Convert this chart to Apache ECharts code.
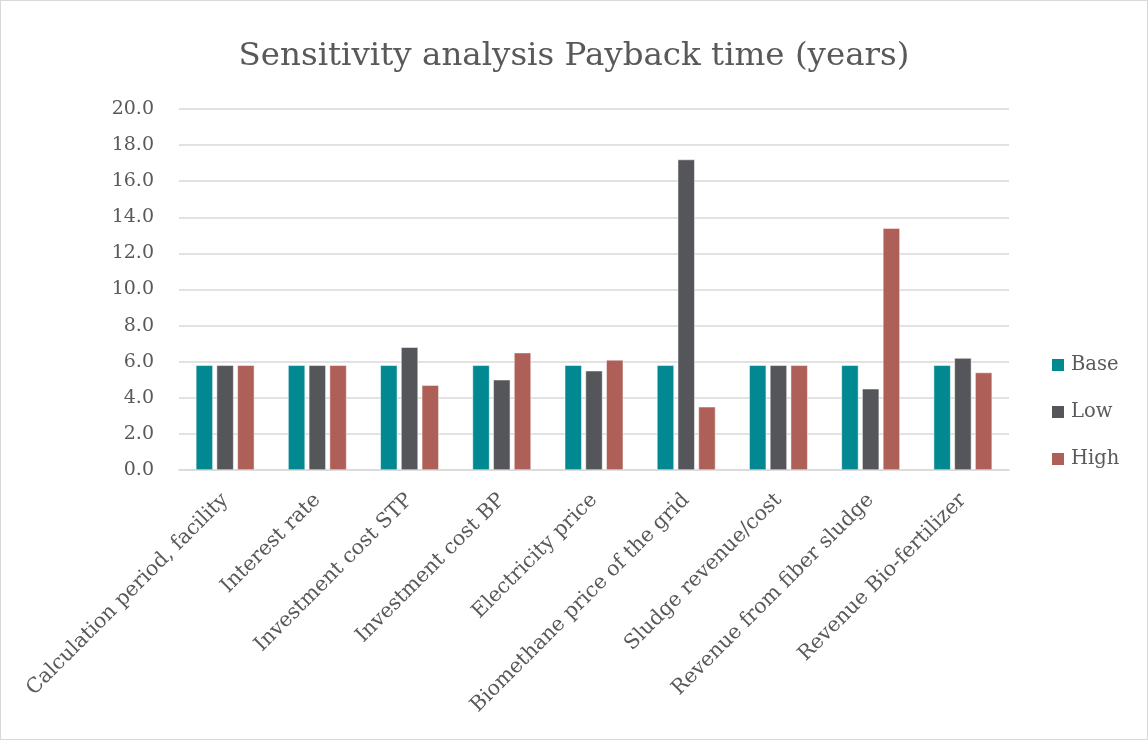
<!DOCTYPE html>
<html>
<head>
<meta charset="utf-8">
<script src="https://cdn.jsdelivr.net/npm/echarts@6/dist/echarts.min.js"></script>
<style>
  html, body { margin: 0; padding: 0; background: #fff; }
  #chart { width: 1148px; height: 740px; box-sizing: border-box; border: 1px solid #d9d9d9; }
</style>
</head>
<body>
<div id="chart"></div>
<script>
// payback time in years
const categories = [
  'Calculation period, facility',
  'Interest rate',
  'Investment cost STP',
  'Investment cost BP',
  'Electricity price',
  'Biomethane price of the grid',
  'Sludge revenue/cost',
  'Revenue from fiber sludge',
  'Revenue Bio-fertilizer'
]
const baseValues = [5.8, 5.8, 5.8, 5.8, 5.8, 5.8, 5.8, 5.8, 5.8]
const lowValues  = [5.8, 5.8, 6.8, 5.0, 5.5, 17.2, 5.8, 4.5, 6.2]
const highValues = [5.8, 5.8, 4.7, 6.5, 6.1, 3.5, 5.8, 13.4, 5.4]
const seriesNames = ['Base', 'Low', 'High']
const colors = ['#028891', '#55565a', '#ae5f57']

const FONT = '"DejaVu Serif", "Liberation Serif", serif'
const TEXT = '#595959'

var chart = echarts.init(document.getElementById('chart'))

function barSeries(name, data) {
  return {
    name: name,
    type: 'bar',
    data: data,
    barWidth: 17,
    barGap: '22%',
    itemStyle: { borderColor: '#fff', borderWidth: 0.5 }
  }
}

chart.setOption({
  animation: false,
  color: colors,
  title: {
    text: 'Sensitivity analysis Payback time (years)',
    left: 'center',
    top: 34,
    padding: [5, 0, 5, 10],
    textStyle: { fontFamily: FONT, fontSize: 32.5, fontWeight: 'normal', color: TEXT }
  },
  legend: {
    orient: 'vertical',
    left: 1044,
    top: 349,
    itemWidth: 14,
    itemHeight: 14,
    itemGap: 27,
    icon: 'rect',
    textStyle: { fontFamily: FONT, fontSize: 19.5, color: TEXT, padding: [0, 0, 0, 1] },
    data: seriesNames
  },
  grid: { left: 178, right: 138, top: 108, bottom: 269 },
  xAxis: {
    type: 'category',
    data: categories,
    axisLine: { lineStyle: { color: '#d9d9d9', width: 1.5 } },
    axisTick: { show: false },
    axisLabel: {
      rotate: 45,
      interval: 0,
      margin: 27,
      fontFamily: FONT,
      fontSize: 20.5,
      color: TEXT
    }
  },
  yAxis: {
    type: 'value',
    min: 0,
    max: 20,
    interval: 2,
    axisLine: { show: false },
    axisTick: { show: false },
    splitLine: { lineStyle: { color: '#d9d9d9', width: 1.5 } },
    axisLabel: {
      margin: 25,
      fontFamily: FONT,
      fontSize: 19,
      color: TEXT,
      formatter: v => v.toFixed(1)
    }
  },
  series: [
    barSeries(seriesNames[0], baseValues),
    barSeries(seriesNames[1], lowValues),
    barSeries(seriesNames[2], highValues)
  ]
})
</script>
</body>
</html>
